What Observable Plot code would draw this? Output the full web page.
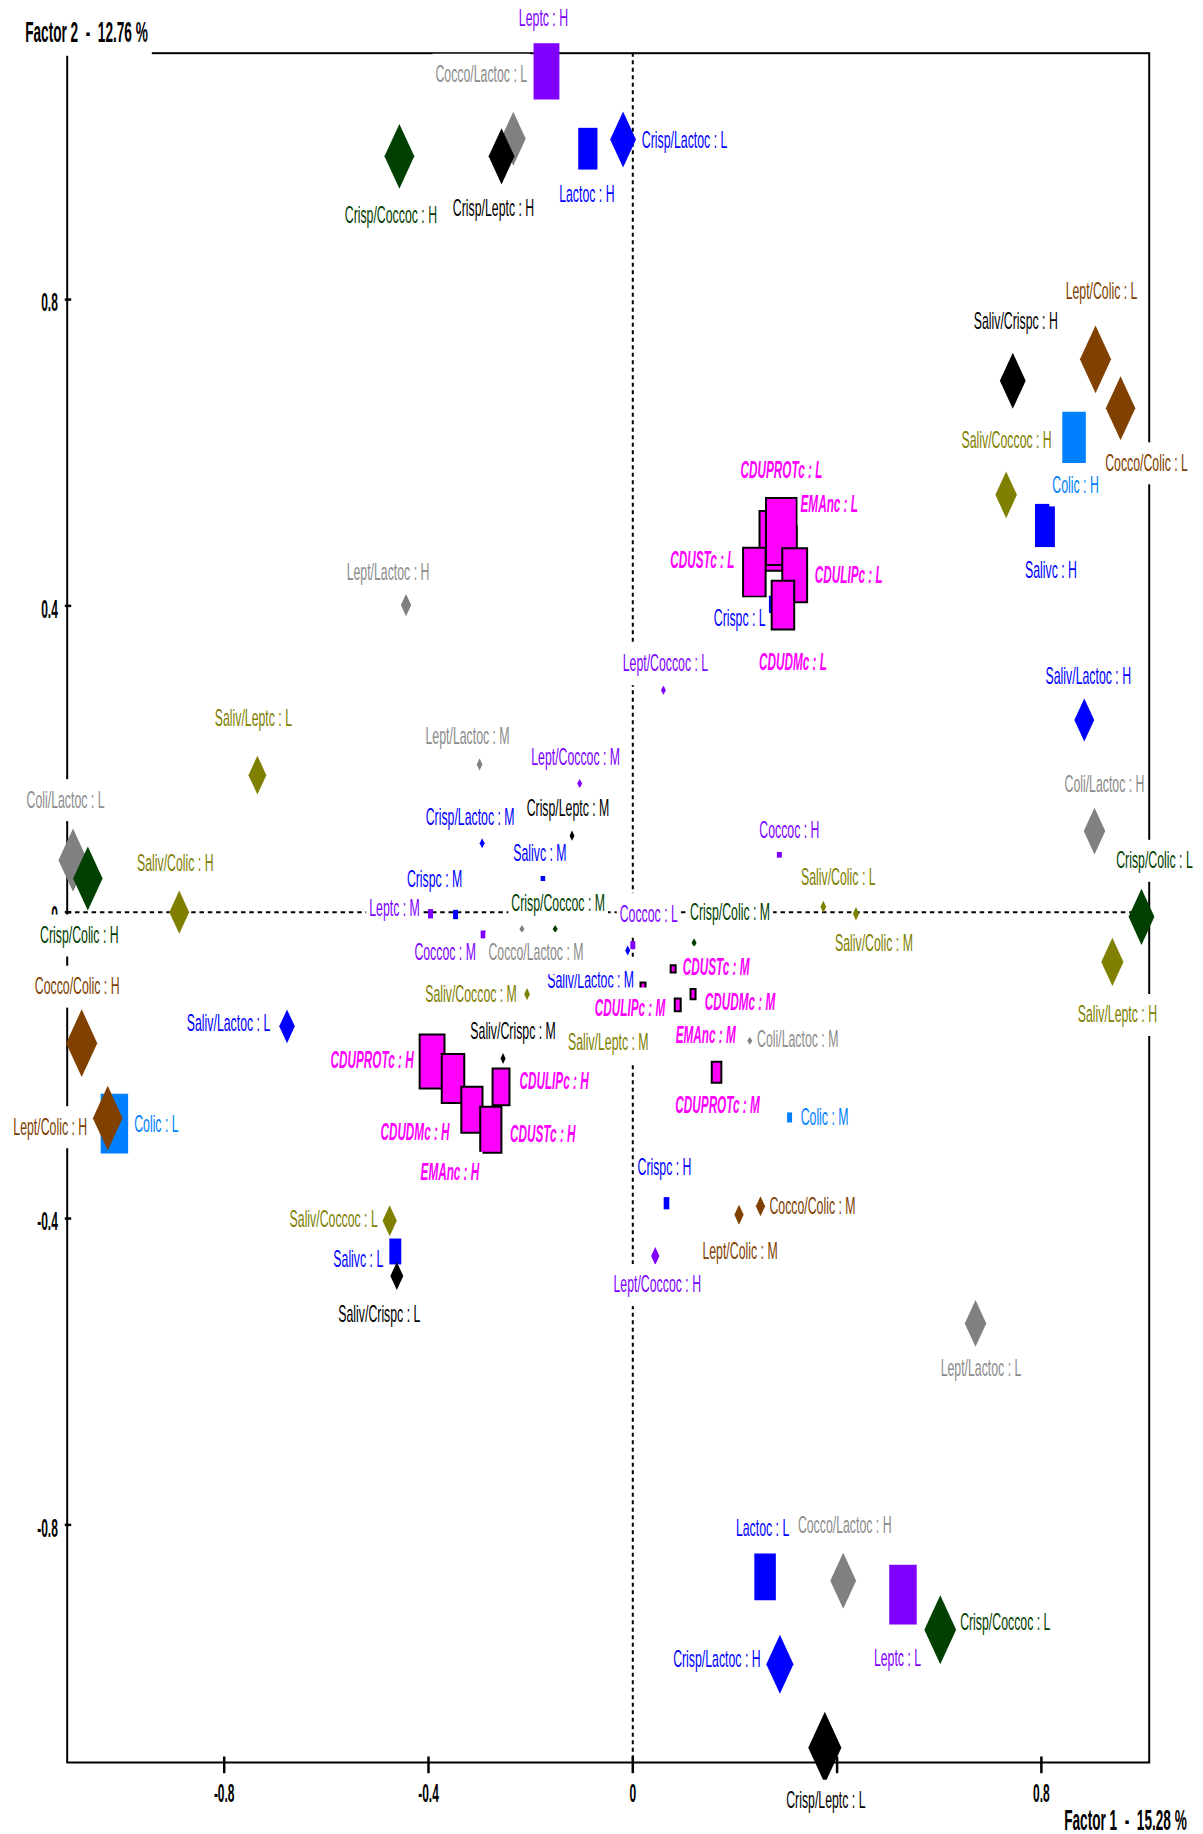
<!DOCTYPE html>
<html>
<head>
<meta charset="utf-8">
<script src="https://cdn.jsdelivr.net/npm/d3@7"></script>
<script src="https://cdn.jsdelivr.net/npm/@observablehq/plot@0.6"></script>
<style>
html, body { margin: 0; padding: 0; background: #fff; overflow: hidden; }
svg { display: block; }
</style>
</head>
<body>
<script>
// ---------------- DATA ----------------
const labels = [
  "Leptc : H", "Cocco/Lactoc : L", "Crisp/Leptc : H", "Lactoc : H", "Crisp/Lactoc : L",
  "Crisp/Coccoc : H", "Saliv/Crispc : H", "Lept/Colic : L", "Cocco/Colic : L", "Colic : H",
  "Saliv/Coccoc : H", "Salivc : H", "Saliv/Lactoc : H", "Coli/Lactoc : H", "Crisp/Colic : L",
  "Saliv/Leptc : H", "Lept/Lactoc : L", "Saliv/Colic : M", "Saliv/Colic : L", "Lept/Coccoc : L",
  "Lept/Lactoc : H", "Lept/Lactoc : M", "Lept/Coccoc : M", "Crisp/Lactoc : M", "Crisp/Leptc : M",
  "Salivc : M", "Crispc : M", "Leptc : M", "Crisp/Coccoc : M", "Coccoc : H",
  "Coccoc : L", "Saliv/Lactoc : M", "Crisp/Colic : M", "Cocco/Lactoc : M", "Coccoc : M",
  "Saliv/Coccoc : M", "Saliv/Crispc : M", "Saliv/Leptc : M", "Colic : M", "Crispc : H",
  "Cocco/Colic : M", "Lept/Colic : M", "Lept/Coccoc : H", "Coli/Lactoc : M", "Crispc : L",
  "CDUPROTc : H", "CDUDMc : H", "EMAnc : H", "CDUSTc : H", "CDULIPc : H",
  "EMAnc : L", "CDUPROTc : L", "CDUSTc : L", "CDULIPc : L", "CDUDMc : L",
  "CDUSTc : M", "CDULIPc : M", "CDUDMc : M", "EMAnc : M", "CDUPROTc : M",
  "Saliv/Leptc : L", "Coli/Lactoc : L", "Crisp/Colic : H", "Saliv/Colic : H", "Cocco/Colic : H",
  "Colic : L", "Lept/Colic : H", "Saliv/Lactoc : L", "Saliv/Coccoc : L", "Salivc : L",
  "Saliv/Crispc : L", "Lactoc : L", "Crisp/Lactoc : H", "Cocco/Lactoc : H", "Leptc : L",
  "Crisp/Coccoc : L", "Crisp/Leptc : L"
];
const factor1 = [
  -0.169, -0.234, -0.257, -0.088, -0.019,
  -0.457, 0.744, 0.906, 0.955, 0.864,
  0.731, 0.807, 0.884, 0.904, 0.996,
  0.939, 0.671, 0.437, 0.373, 0.060,
  -0.444, -0.300, -0.104, -0.295, -0.119,
  -0.176, -0.347, -0.396, -0.152, 0.287,
  0.000, -0.010, 0.120, -0.217, -0.293,
  -0.207, -0.254, -0.048, 0.307, 0.066,
  0.250, 0.208, 0.044, 0.229, 0.274,
  -0.393, -0.352, -0.315, -0.278, -0.258,
  0.275, 0.291, 0.238, 0.317, 0.294,
  0.079, 0.020, 0.118, 0.088, 0.164,
  -0.735, -1.096, -1.067, -0.888, -1.079,
  -1.015, -1.028, -0.677, -0.476, -0.465,
  -0.462, 0.259, 0.288, 0.412, 0.529,
  0.602, 0.376
];
const factor2 = [
  1.098, 1.010, 0.987, 0.997, 1.009,
  0.987, 0.694, 0.722, 0.658, 0.620,
  0.545, 0.505, 0.251, 0.106, -0.006,
  -0.065, -0.537, -0.002, 0.007, 0.290,
  0.401, 0.193, 0.168, 0.090, 0.100,
  0.044, -0.003, -0.002, -0.022, 0.075,
  -0.043, -0.050, -0.040, -0.022, -0.029,
  -0.107, -0.191, -0.154, -0.268, -0.380,
  -0.384, -0.395, -0.449, -0.168, 0.402,
  -0.195, -0.217, -0.258, -0.284, -0.228,
  0.485, 0.497, 0.444, 0.440, 0.401,
  -0.074, -0.097, -0.107, -0.121, -0.209,
  0.179, 0.068, 0.044, 0.000, -0.171,
  -0.276, -0.269, -0.149, -0.403, -0.443,
  -0.475, -0.868, -0.982, -0.873, -0.891,
  -0.937, -1.091
];
// relative quality of representation (drives marker size)
const quality = [
  0.78, 0.75, 0.78, 0.58, 0.78,
  0.90, 0.78, 0.94, 0.89, 0.71,
  0.65, 0.60, 0.60, 0.65, 0.78,
  0.67, 0.65, 0.19, 0.17, 0.13,
  0.31, 0.17, 0.13, 0.14, 0.14,
  0.07, 0.13, 0.13, 0.11, 0.08,
  0.11, 0.14, 0.13, 0.11, 0.11,
  0.17, 0.15, 0.08, 0.14, 0.17,
  0.28, 0.28, 0.25, 0.11, 0.24,
  0.75, 0.68, 0.64, 0.64, 0.51,
  0.83, 0.93, 0.68, 0.75, 0.68,
  0.10, 0.11, 0.14, 0.18, 0.29,
  0.54, 0.88, 0.89, 0.60, 0.94,
  0.83, 0.90, 0.47, 0.43, 0.36,
  0.39, 0.65, 0.82, 0.78, 0.83,
  0.96, 1.00
];
const xTicks = [-0.8, -0.4, 0, 0.4, 0.8];
const xTickLabels = ["-0.8", "-0.4", "0", "0.4", "0.8"];
const yTicks = [0.8, 0.4, 0, -0.4, -0.8];
const yTickLabels = ["0.8", "0.4", "0", "-0.4", "-0.8"];
const xTitle = "Factor 1 \u00a0-\u00a0 15.28 %";
const yTitle = "Factor 2 \u00a0-\u00a0 12.76 %";

// ---------------- STYLE / LAYOUT ----------------
const varColor = {
  "Leptc": "#8000ff", "Coccoc": "#8000ff", "Lept/Coccoc": "#8000ff",
  "Cocco/Lactoc": "#808080", "Lept/Lactoc": "#808080", "Coli/Lactoc": "#808080",
  "Crisp/Leptc": "#000000", "Saliv/Crispc": "#000000",
  "Lactoc": "#0000ff", "Crisp/Lactoc": "#0000ff", "Salivc": "#0000ff", "Crispc": "#0000ff", "Saliv/Lactoc": "#0000ff",
  "Crisp/Coccoc": "#004000", "Crisp/Colic": "#004000",
  "Lept/Colic": "#804000", "Cocco/Colic": "#804000",
  "Colic": "#0080ff",
  "Saliv/Coccoc": "#808000", "Saliv/Leptc": "#808000", "Saliv/Colic": "#808000",
  "CDUPROTc": "#ff00ff", "EMAnc": "#ff00ff", "CDUSTc": "#ff00ff", "CDULIPc": "#ff00ff", "CDUDMc": "#ff00ff"
};
// label offsets from marker centre, in pixels
const labelOffset = {
  "Leptc : H": [-3, -53], "Cocco/Lactoc : L": [-32, -64], "Crisp/Leptc : H": [-8, 52],
  "Lactoc : H": [-1, 46], "Crisp/Lactoc : L": [61.5, 1], "Crisp/Coccoc : H": [-8.5, 59],
  "Saliv/Crispc : H": [3, -59], "Lept/Colic : L": [6, -67.5], "Cocco/Colic : L": [26, 55],
  "Colic : H": [1.5, 48], "Saliv/Coccoc : H": [0.5, -54], "Salivc : H": [6, 45],
  "Saliv/Lactoc : H": [4, -43], "Coli/Lactoc : H": [10, -46], "Crisp/Colic : L": [13, -56],
  "Saliv/Leptc : H": [5, 53], "Lept/Lactoc : L": [5.5, 45], "Saliv/Colic : M": [18, 30],
  "Saliv/Colic : L": [15, -29], "Lept/Coccoc : L": [2, -26], "Lept/Lactoc : H": [-18, -32],
  "Lept/Lactoc : M": [-12, -28], "Lept/Coccoc : M": [-4, -26], "Crisp/Lactoc : M": [-12, -26],
  "Crisp/Leptc : M": [-4, -27], "Salivc : M": [-3, -25], "Crispc : M": [-21, -35],
  "Leptc : M": [-36, -5], "Crisp/Coccoc : M": [3, -25], "Coccoc : H": [10, -24],
  "Coccoc : L": [16, -31], "Saliv/Lactoc : M": [-37, 30], "Crisp/Colic : M": [36, -30],
  "Cocco/Lactoc : M": [14, 24], "Coccoc : M": [-38, 18], "Saliv/Coccoc : M": [-56, 0],
  "Saliv/Crispc : M": [10, -27], "Saliv/Leptc : M": [0, 12], "Colic : M": [35, 0],
  "Crispc : H": [-2, -36], "Cocco/Colic : M": [52, 0], "Lept/Colic : M": [1, 37],
  "Lept/Coccoc : H": [2, 29], "Coli/Lactoc : M": [48, -1], "Crispc : L": [-33, 14],
  "CDUPROTc : H": [-60, -1], "CDUDMc : H": [-38, 54], "EMAnc : H": [-22, 63],
  "CDUSTc : H": [52, 5], "CDULIPc : H": [53, -6], "EMAnc : L": [56, -36],
  "CDUPROTc : L": [0, -61], "CDUSTc : L": [-52, -12], "CDULIPc : L": [54, 0],
  "CDUDMc : L": [10, 57], "CDUSTc : M": [43, -2], "CDULIPc : M": [-13, 22],
  "CDUDMc : M": [47, 8], "EMAnc : M": [28, 30], "CDUPROTc : M": [1, 33],
  "Saliv/Leptc : L": [-4, -56], "Coli/Lactoc : L": [-7.5, -60], "Crisp/Colic : H": [-8.5, 57],
  "Saliv/Colic : H": [-4, -49], "Cocco/Colic : H": [-4.5, -56.5], "Colic : L": [42, 1],
  "Lept/Colic : H": [-57.5, 9], "Saliv/Lactoc : L": [-58.5, -3], "Saliv/Coccoc : L": [-56, -1],
  "Salivc : L": [-37, 8], "Saliv/Crispc : L": [-17.5, 39], "Lactoc : L": [-2.5, -48],
  "Crisp/Lactoc : H": [-63, -5], "Cocco/Lactoc : H": [1.5, -55], "Leptc : L": [-5.5, 64],
  "Crisp/Coccoc : L": [65, -7], "Crisp/Leptc : L": [1, 53]
};

const pts = labels.map((label, i) => ({
  label, f1: factor1[i], f2: factor2[i], q: quality[i], v: label.split(" : ")[0]
}));
const isCDU = (v) => /^(CDU|EMAnc)/.test(v);
const isSingle = (v) => !v.includes("/");
const squares = pts.filter((p) => isSingle(p.v) && !isCDU(p.v));
const diamonds = pts.filter((p) => !isSingle(p.v));
const cdu = pts.filter((p) => isCDU(p.v));

// tall (horizontally compressed) marker shapes
const halfW = (h) => Math.max(h * 0.46, Math.min(h * 0.9, 2.5));
const tallDiamond = {draw(ctx, size) {
  const h = Math.sqrt(size / Math.PI), w = halfW(h);
  ctx.moveTo(0, -h); ctx.lineTo(w, 0); ctx.lineTo(0, h); ctx.lineTo(-w, 0); ctx.closePath();
}};
const tallRect = {draw(ctx, size) {
  const h = Math.sqrt(size / Math.PI), w = halfW(h);
  ctx.moveTo(-w, -h); ctx.lineTo(w, -h); ctx.lineTo(w, h); ctx.lineTo(-w, h); ctx.closePath();
}};
const vTick = {draw(ctx) { ctx.moveTo(0, -6); ctx.lineTo(0, 10.7); }};
const hTick = {draw(ctx) { ctx.moveTo(-2.4, 0); ctx.lineTo(4, 0); }};

const labelMarks = pts.map((p) => {
  const c = isCDU(p.v);
  const [dx, dy] = labelOffset[p.label] || [0, -20];
  const col = varColor[p.v] === "#808080" ? "#8c8c8c" : varColor[p.v];
  return Plot.text([p], {
    x: "f1", y: "f2", text: "label", dx, dy,
    fill: col, fontSize: c ? 24 : 23,
    fontWeight: c ? "bold" : "normal", fontStyle: c ? "italic" : "normal",
    textAnchor: "middle", lineAnchor: "middle"
  });
});

const svg = Plot.plot({
  width: 1203, height: 1834,
  marginLeft: 66.7, marginRight: 54.3, marginTop: 52.7, marginBottom: 72,
  x: {domain: [-1.1074, 1.0111], axis: null},
  y: {domain: [-1.1103, 1.1217], axis: null},
  r: {type: "linear", domain: [0, 1], range: [0, 36]},
  color: {type: "identity"},
  style: {background: "white", fontFamily: "'Liberation Sans', Arial, sans-serif", color: "black"},
  marks: [
    Plot.frame({stroke: "black", strokeWidth: 2}),
    Plot.ruleY([0], {stroke: "black", strokeWidth: 2, strokeDasharray: "4.5,3.8"}),
    Plot.ruleX([0], {stroke: "black", strokeWidth: 2, strokeDasharray: "4,3.5"}),
    Plot.dot(xTicks, {x: (d) => d, frameAnchor: "bottom", symbol: vTick, fill: "none", stroke: "black", strokeWidth: 2.5}),
    Plot.dot(yTicks, {y: (d) => d, frameAnchor: "left", symbol: hTick, fill: "none", stroke: "black", strokeWidth: 2.5}),
    Plot.text(xTicks, {x: (d) => d, text: (d, i) => xTickLabels[i], frameAnchor: "bottom", dy: 31,
      textAnchor: "middle", lineAnchor: "middle", fontSize: 25.5, fontWeight: "bold", fill: "black"}),
    Plot.text(yTicks, {y: (d) => d, text: (d, i) => yTickLabels[i], frameAnchor: "left", dx: -9.4, dy: 3.5,
      textAnchor: "end", lineAnchor: "middle", fontSize: 25.5, fontWeight: "bold", fill: "black"}),
    Plot.text([yTitle], {frameAnchor: "top-left", dx: 19.3, dy: -20.4, textAnchor: "middle", lineAnchor: "middle",
      fontSize: 29, fontWeight: "bold", fill: "black"}),
    Plot.text([xTitle], {frameAnchor: "bottom-right", dx: -23.7, dy: 58, textAnchor: "middle", lineAnchor: "middle",
      fontSize: 29, fontWeight: "bold", fill: "black"}),
    Plot.dot(squares, {x: "f1", y: "f2", r: "q", symbol: tallRect, fill: (p) => varColor[p.v], stroke: "none", sort: null}),
    Plot.dot(diamonds, {x: "f1", y: "f2", r: "q", symbol: tallDiamond, fill: (p) => varColor[p.v], stroke: "none", sort: null}),
    Plot.dot(cdu, {x: "f1", y: "f2", r: "q", symbol: tallRect, fill: "#ff00ff", stroke: "black", strokeWidth: 2, sort: null}),
    ...labelMarks
  ]
});
document.body.appendChild(svg);

// horizontal compression of the text and opaque label boxes
const NS = "http://www.w3.org/2000/svg";
const textCfg = (fs) => {
  if (Math.abs(fs - 23) < 0.1) return {sx: 0.535, hh: 21, pad: 3};
  if (Math.abs(fs - 24) < 0.1) return {sx: 0.49, hh: 21, pad: 3};
  if (Math.abs(fs - 25.5) < 0.1) return {sx: 0.47, hh: 0, pad: 0};
  if (Math.abs(fs - 29) < 0.1) return {sx: 0.47, hh: 23, pad: 4};
  return {sx: 1, hh: 0, pad: 0};
};
svg.querySelectorAll("text").forEach((t) => {
  const fs = parseFloat(getComputedStyle(t).fontSize);
  const cfg = textCfg(fs);
  let tr = t.getAttribute("transform") || "";
  const xa = t.getAttribute("x");
  if (xa !== null && !isNaN(parseFloat(xa)) && !/em$/.test(xa)) {
    tr = `translate(${parseFloat(xa)},0) ` + tr;
    t.removeAttribute("x");
  }
  tr = tr + ` scale(${cfg.sx},1)`;
  t.setAttribute("transform", tr);
  if (cfg.hh) {
    const bb = t.getBBox();
    const r = document.createElementNS(NS, "rect");
    const p = cfg.pad / cfg.sx;
    r.setAttribute("x", bb.x - p);
    r.setAttribute("width", bb.width + 2 * p);
    r.setAttribute("y", -cfg.hh);
    r.setAttribute("height", 2 * cfg.hh);
    r.setAttribute("fill", "white");
    r.setAttribute("stroke", "none");
    r.setAttribute("transform", tr);
    t.parentNode.insertBefore(r, t);
  }
});
</script>
</body>
</html>
